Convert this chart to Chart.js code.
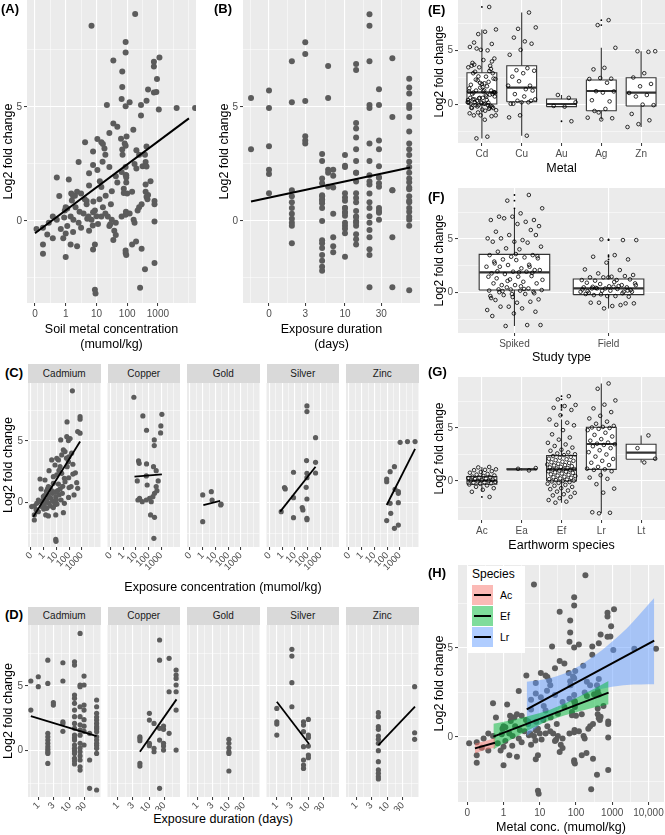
<!DOCTYPE html>
<html lang="en">
<head>
<meta charset="UTF-8">
<title>Log2 fold change by metal, duration and species</title>
<script src="https://cdn.jsdelivr.net/npm/chart.js"></script>
<style>
  body { margin: 0; background: #fff; }
  #fig { position: relative; width: 665px; height: 835px; overflow: hidden; font-family: 'Liberation Sans', Arial, sans-serif; }
  #fig canvas { position: absolute; }
  .tag { position: absolute; font-weight: bold; font-size: 13px; line-height: 15px; color: #000; }
  .strip { position: absolute; background: #D9D9D9; color: #1A1A1A; font-size: 10px; text-align: center; }
  .xtitle { position: absolute; left: 0; width: 446px; font-size: 12.5px; line-height: 14px; text-align: center; color: #000; }
  #legend { position: absolute; left: 467px; top: 566px; width: 58px; height: 87px; background: #fff; }
  #legend .lt { position: absolute; left: 5px; top: 1px; font-size: 12px; line-height: 15px; }
  #legend .key { position: absolute; left: 5px; width: 21px; height: 20px; }
  #legend .key i { position: absolute; left: 2px; top: 9px; width: 17px; height: 2px; background: #000; }
  #legend .lab { position: absolute; left: 33px; font-size: 10.5px; line-height: 20px; }
</style>
</head>
<body>
<div id="fig"></div>
<script>
// ---------- data ----------
const metals = ['Cadmium', 'Copper', 'Gold', 'Silver', 'Zinc'];
const metalCodes = ['Cd', 'Cu', 'Au', 'Ag', 'Zn'];

// [log10 soil concentration (mumol/kg), log2 fold change], panel C
const cdConc = [[2.26,9.08],[1.84,6.55],[2.87,6.98],[2.87,6.77],[2.68,5.76],[2.87,5.63],[1.34,5.08],[1.82,5.35],
  [1.95,5.03],[2.08,5.2],[1.55,4.27],[1.68,4.13],[1.42,3.86],[1.03,3.59],[0.63,3.45],[1.16,3.45],[0.42,2.58],
  [0.89,3.04],[1.29,2.9],[-0.29,1.9],[0.1,1.82],[0.76,2.09],[1.03,2.23],[1.42,2.36],[1.63,1.96],[-0.21,1.09],
  [0.37,1.28],[0.76,1.55],[1.16,1.49],[1.68,1.68],[2.16,1.28],[2.68,1.14],[2.39,0.6],[-0.95,-0.35],[-0.74,-0.3],
  [-0.55,-0.08],[-0.42,0.19],[-0.29,0.05],[-0.03,0.46],[0.05,-0.22],[0.16,0.19],[0.32,0.6],[0.42,-0.08],[0.58,0.33],
  [0.68,0.73],[0.84,0.05],[0.95,0.46],[1.05,-0.14],[1.21,0.6],[1.37,0.19],[1.47,0.73],[1.63,-0.08],[-0.16,-0.35],
  [0.24,-0.49],[0.5,-0.3],[0.76,-0.43],[-0.42,-0.76],[-0.74,-1.03],[-0.74,-1.44],[0.16,-1.03],[0.37,-1.11],
  [0.95,-1.03],[1.55,-0.84],[0.95,-3.02],[0.97,-3.18],[0.3,1.1],[0.5,1.2],[0.62,0.95],[0.2,0.9],[0.05,0.55],
  [0.45,0.4],[0.9,0.85],[1.0,0.2],[1.1,0.95],[0.7,0.1],[0.25,0.05],[-0.05,0.15],[0.88,-0.2],[1.3,1.1],[1.5,1.3],
  [1.85,2.9],[1.95,3.3],[1.97,2.0],[2.0,1.2],[1.96,0.4],[2.3,2.3],[2.5,2.4],[2.6,1.6],[1.8,3.6],[2.3,3.1],
  [1.2,2.6],[0.0,-0.55],[-0.6,-0.6],[1.98,3.7],[2.2,4.0]];
const cuConc = [[0.84,8.56],[1.55,7.04],[3.05,7.17],[1.84,5.87],[2.97,6.22],[2.95,5.65],[2.45,5.08],[2.45,4.62],
  [1.21,3.37],[1.26,3.18],[1.84,3.13],[2.39,2.9],[2.6,2.58],[1.11,1.74],[1.82,2.15],[2.76,1.74],[1.89,1.41],
  [2.66,0.95],[2.6,1.28],[1.16,0.19],[1.5,0.05],[1.82,0.19],[2.08,0.33],[2.34,0.46],[2.47,0.73],[2.21,0.05],
  [1.29,0.33],[2.16,-1.03],[2.47,-1.22],[2.42,-2.93]];
const auConc = [[0.0,0.6],[0.68,0.87],[0.74,0.19],[1.42,-0.22],[1.45,-0.15],[0.0,-1.58]];
const agConc = [[1.95,7.85],[1.95,7.39],[2.63,5.27],[1.92,3.4],[2.63,3.26],[2.63,2.39],[0.89,2.45],[1.95,2.36],
  [1.95,2.01],[1.89,1.22],[0.18,1.2],[0.24,1.09],[0.89,0.38],[1.95,0.27],[-0.08,-0.76],[0.89,-1.25],[1.58,-0.43],
  [1.63,-0.62],[1.95,-1.3],[1.95,-1.41]];
const znConc = [[3.03,4.89],[3.61,4.95],[4.21,4.95],[2.58,2.9],[2.24,2.5],[1.97,1.9],[1.97,1.68],[2.63,1.06],
  [2.89,0.87],[2.89,0.73],[2.24,-0.08],[2.89,-0.03],[2.29,-0.9],[1.97,-1.49],[2.89,-1.85],[2.58,-2.12]];
// fitted lines per metal, [log10 conc, lfc] end points
const concFits = [[[-0.82,-1.17],[2.87,4.95]], [[0.89,2.09],[3.05,2.28]], [[0.05,-0.22],[1.37,0.11]],
  [[-0.16,-0.76],[2.63,2.9]], [[1.97,-0.22],[4.21,4.35]]];
const concFitAll = [[-1,-0.54],[4.01,4.5]];

// [exposure duration (days), log2 fold change], panel D
const cdDays = [[0.58,5.39],[0.58,3.14],[1,5.72],[1,4.95],[2,7.0],[2,5.2],[2,1.34],[2,1.08],[2,0.82],[2,0.57],
  [2,0.31],[2,-0.08],[2,-0.21],[2,-0.98],[2,0.1],[3,3.71],[3,3.53],[6,6.8],[6,5.39],[6,2.24],[6,2.11],[6,1.5],
  [14,6.88],[14,6.62],[14,4.3],[14,4.05],[14,3.66],[14,3.14],[14,2.63],[14,2.11],[14,1.73],[14,1.21],[14,1.0],
  [14,0.82],[14,0.44],[14,0.18],[14,0.0],[14,-0.21],[14,-0.59],[14,-0.8],[14,-1.03],[21,9.07],[21,5.08],[21,4.95],
  [21,3.4],[21,2.63],[21,2.0],[21,1.6],[21,1.2],[21,0.57],[21,0.2],[21,-0.08],[21,-0.4],[21,-0.72],[21,-1.24],
  [21,-1.5],[28,5.77],[28,5.08],[28,3.53],[28,3.14],[28,2.4],[28,1.9],[28,1.5],[28,0.44],[42,1.34],[42,-0.72],
  [42,-2.91],[70,3.92],[70,3.4],[70,2.89],[70,2.6],[70,2.37],[70,2.11],[70,1.86],[70,1.7],[70,1.47],[70,1.08],
  [70,0.82],[70,0.57],[70,0.4],[70,0.18],[70,-0.21],[70,-3.04]];
const cuDays = [[5,0.95],[5,0.77],[5,-0.98],[5,-1.19],[5,1.08],[10,2.89],[10,2.37],[10,0.57],[10,0.39],[14,2.11],
  [14,0.18],[14,-0.08],[21,8.56],[21,7.0],[21,0.82],[21,-2.91],[21,1.73],[28,1.91],[28,1.65],[28,0.36],[28,0.05],
  [28,0.57],[42,7.14],[42,4.56],[42,1.34],[70,6.24],[70,5.85],[70,5.59],[70,5.08],[70,4.56],[70,3.14],[70,0.05]];
const auDays = [[10,0.88],[10,0.57],[10,0.23],[10,-0.08],[10,-0.21],[10,-1.57]];
const agDays = [[1,3.27],[1,2.24],[1,2.06],[1,1.21],[3,7.84],[3,7.32],[3,5.26],[3,3.4],[7,2.24],[7,1.98],[7,1.47],
  [7,0.31],[7,-0.72],[7,-1.11],[7,-1.37],[10,2.42],[10,1.21],[10,1.03],[10,0.36],[10,-0.34],[10,-0.54]];
const znDays = [[5,2.94],[5,2.63],[5,1.86],[5,1.65],[5,1.13],[5,0.88],[5,0.57],[5,0],[5,-0.85],[5,-1.49],
  [5,-1.75],[5,-2.01],[5,-2.19],[70,4.95],[70,1.39],[70,0.88]];
const durFits = [[[0.58,2.68],[70,1.13]], [[5,-0.08],[72,3.97]], null, [[1,3.79],[10.5,0.52]], [[5,0.44],[72,3.4]]];
const durFitAll = [[0.58,0.85],[72,2.34]];

// boxplot stats [lower whisker, q1, median, q3, upper whisker]
const metalBox = [[-3.18,0.03,1.12,2.95,6.98], [-2.93,0.24,1.55,3.6,8.56], [-0.22,-0.22,0.03,0.5,0.87],
  [-1.41,-0.6,1.24,2.27,5.27], [-2.12,-0.16,1.08,2.48,4.95]];
const studyTypes = ['Spiked', 'Field'];
const spikedLfc = [9.1,8.57,7.86,7.39,7.08,6.77,7.08,6.77,6.6,6.93,6.2,6.4,5.68,5.84,5.37,5.06,4.9,5.06,5.37,4.75,
  4.75,4.66,4.13,4.29,4.04,3.82,3.5,3.35,3.5,3.29,3.1,3.2,3.04,2.73,2.42,2.58,2.42,2.27,2.42,2.11,1.96,1.8,1.96,
  1.74,2.11,1.49,1.34,1.55,1.24,1.49,1.02,0.71,0.87,0.71,0.87,0.4,0.5,0.25,0.19,0.31,0.09,-0.12,-0.31,-0.12,-0.22,
  -0.62,-0.93,-0.68,-0.84,-1.3,-1.61,-1.46,-1.3,-1.77,-1.93,-2.17,-3.01,-3.1,-3.01,1.9,2.0,1.85,0.3,0.2,0.35,0.15,
  3.4,3.6,2.9,2.6,1.1,1.2,0.6,0.05,-0.05,-0.4,-0.5];
const fieldLfc = [4.9,4.97,4.9,3.5,3.35,3.1,2.8,2.17,2.11,1.8,1.65,1.49,1.43,1.55,1.43,1.18,1.18,1.12,1.24,1.43,
  0.93,0.71,0.81,0.87,0.56,0.4,0.5,0.4,0.5,0.62,0.4,0.09,0.19,0,0.09,0.19,0.09,-0.31,-0.22,-0.37,-0.31,-0.12,
  -1.15,-0.93,-0.99,-1.24,-0.93,-0.99,-1.46,0.3,0.35,0.45,0.25,0.6,0.15,-0.05,-0.15,0.7,1.0,0.55,0.2];
const studyBox = [[-3.1,0.25,1.9,3.57,7.8], [-1.46,-0.18,0.41,1.28,2.98]];

const speciesCodes = ['Ac', 'Ea', 'Ef', 'Lr', 'Lt'];
const acLfc = [1.32,1.28,1.1,1.05,1.02,0.93,0.85,0.78,0.66,0.6,0.52,0.47,0.41,0.36,0.33,0.28,0.22,0.19,0.12,0.08,
  0.04,0.01,-0.03,-0.08,-0.12,-0.17,-0.22,-0.27,-0.33,-0.42,-0.55,-0.68,-0.83,-1.02,-1.5];
const eaLfc = [1.0, 1.15, 1.22];
const efLfc = [8.0,7.7,7.17,7.07,6.9,6.7,6.2,5.8,5.5,5.3,5.25,4.8,4.4,4.1,3.9,3.6,3.45,3.3,3.15,2.95,2.85,2.7,2.6,
  2.52,2.44,2.35,2.28,2.2,2.1,2.05,1.97,1.9,1.82,1.77,1.7,1.62,1.56,1.5,1.47,1.4,1.33,1.28,1.22,1.17,1.12,1.1,1.08,
  1.03,0.98,0.92,0.88,0.81,0.76,0.7,0.63,0.58,0.51,0.47,0.4,0.36,0.3,0.24,0.18,0.13,0.08,0.03,0.0,-0.04,-0.1,-0.18,
  -0.26,-0.37,-0.45,-0.56,-0.68,-0.77,-0.9,-1.0,-1.12,-1.25,-1.36,-1.5,-1.62,-1.8,-1.95,-2.05];
const lrLfc = [9.2,8.7,7.6,7.2,6.85,6.5,6.15,5.9,5.6,5.4,5.2,5.1,5.05,5.0,4.92,4.8,4.55,4.35,4.2,3.95,3.8,3.62,3.52,
  3.47,3.4,3.28,3.1,2.9,2.72,2.5,2.3,2.08,1.9,1.72,1.5,1.33,1.16,1.1,1.05,0.92,0.55,0.32,0.2,-0.3,-0.72,-1.1,-2.95,
  -3.0,-3.05];
const ltLfc = [4.3, 3.1, 2.1, 1.75];
const speciesBox = [[-1.02,-0.31,0.03,0.41,1.32], [1.0,1.08,1.1,1.12,1.22], [-2.05,0.0,1.1,2.39,5.8],
  [-3.05,1.1,3.49,5.07,9.2], [1.75,2.05,2.67,3.46,4.3]];

// panel H: species fits with confidence bands (x in log10 conc)
const fitSpecies = ['Ac', 'Ef', 'Lr'];
const acBandX = [-0.79, -0.5, -0.235], acBandHi = [-0.36, -0.22, -0.05], acBandLo = [-0.92, -0.72, -0.6];
const efBandX = [-0.28, 0.5, 1.3, 2.1, 2.9], efBandHi = [0.74, 1.08, 1.55, 2.29, 3.14], efBandLo = [-0.7, 0.18, 0.95, 1.45, 1.84];
const lrBandX = [0.64, 1.3, 1.9, 2.6, 3.4, 4.16], lrBandHi = [3.1, 3.32, 3.77, 4.7, 6.1, 7.8], lrBandLo = [0.05, 1.2, 2.05, 2.65, 2.92, 2.96];
const speciesFits = [[[-0.79,-0.64],[-0.235,-0.32]], [[-0.28,0.02],[2.9,2.49]], [[0.64,1.55],[4.16,5.41]]];

// tick labels
const concTicks = [[-1,'0'],[0,'1'],[1,'10'],[2,'100'],[3,'1000']];
const hConcTicks = [[-1,'0'],[0,'1'],[1,'10'],[2,'100'],[3,'1000'],[4,'10,000']];
const durTicksB = [[0,'0'],[Math.log10(3),'3'],[1,'10'],[Math.log10(30),'30']];
const durTicksD = [[0,'1'],[Math.log10(3),'3'],[1,'10'],[Math.log10(30),'30']];
const lfcTicks = [[0,'0'],[5,'5']];

// ---------- drawing ----------
const fig = document.getElementById('fig');
const PT = '#5C5C5C';
const BAND = ['rgba(248,118,109,0.5)', 'rgba(0,186,56,0.5)', 'rgba(97,156,255,0.5)'];
const HW = 0.375;
Chart.defaults.font.family = "'Liberation Sans', Arial, sans-serif";

const panelBg = {
  id: 'panelBg',
  beforeDraw(chart) {
    const a = chart.chartArea, ctx = chart.ctx;
    ctx.save();
    ctx.fillStyle = '#EBEBEB';
    ctx.fillRect(a.left, a.top, a.right - a.left, a.bottom - a.top);
    ctx.restore();
  }
};

const lfcMinor = [-2.5, 2.5, 7.5];
const concMinor = [-0.5, 0.5, 1.5, 2.5, 3.5, 4];
const durMinor = [-0.24, 0.24, 0.74, 1.24, 1.74];

function axis(min, max, majors, minors, o = {}) {
  const list = majors.map(m => ({ v: m[0], label: m[1], major: true }))
    .concat(minors.map(v => ({ v, label: '', major: false })))
    .sort((a, b) => a.v - b.v);
  const major = c => list[c.index] && list[c.index].major;
  return {
    type: 'linear', min, max,
    afterBuildTicks: s => { s.ticks = list.map(t => ({ value: t.v })); },
    ticks: {
      display: !o.hideTicks,
      callback: (v, i) => list[i] ? list[i].label : '',
      color: '#4D4D4D', font: { size: o.tickSize || 10 }, padding: o.rotate ? 0 : 2,
      autoSkip: false, maxRotation: o.rotate || 0, minRotation: o.rotate || 0
    },
    grid: {
      color: '#FFFFFF',
      lineWidth: c => major(c) ? 1.1 : 0.5,
      drawTicks: !o.hideTicks, tickLength: 3, tickWidth: 1,
      tickColor: c => major(c) ? '#333333' : 'rgba(0,0,0,0)'
    },
    border: { display: false },
    title: o.title
      ? { display: true, text: o.title, color: '#000', font: { size: o.titleSize || 12.5 }, padding: { top: o.titlePad || 2, bottom: 0 } }
      : { display: false }
  };
}

function panel(rect, plot, scales, datasets) {
  const [cx, cy, cw, ch] = rect, [pl, pt, pr, pb] = plot;
  const cv = document.createElement('canvas');
  cv.width = cw; cv.height = ch;
  cv.style.left = cx + 'px'; cv.style.top = cy + 'px';
  cv.style.width = cw + 'px'; cv.style.height = ch + 'px';
  fig.appendChild(cv);
  scales.x.position = 'bottom';
  scales.y.position = 'left';
  scales.x.afterFit = s => { s.height = cy + ch - pb; s.paddingLeft = 0; s.paddingRight = 0; };
  scales.y.afterFit = s => { s.width = pl - cx; s.paddingTop = 0; s.paddingBottom = 0; };
  return new Chart(cv, {
    type: 'line',
    data: { datasets },
    options: {
      responsive: false, animation: false, events: [],
      layout: { autoPadding: false, padding: { left: 0, top: pt - cy, right: cx + cw - pr, bottom: 0 } },
      scales,
      plugins: { legend: { display: false }, tooltip: { enabled: false } }
    },
    plugins: [panelBg]
  });
}

const logX = p => Math.log10(p[0]);
const rawX = p => p[0];
const scatter = (pairs, r, fx = rawX) => ({
  data: pairs.map(p => ({ x: fx(p), y: p[1] })), showLine: false,
  pointRadius: r, pointBackgroundColor: PT, pointBorderColor: PT, pointBorderWidth: 0, order: 3
});
const fitLine = (ends, w, fx = rawX) => ({
  data: ends.map(p => ({ x: fx(p), y: p[1] })), borderColor: '#000', borderWidth: w,
  pointRadius: 0, fill: false, order: 1
});

// deterministic horizontal spread for jittered points
const jitter = (i, w) => ((((i + 1) * 0.6180339887 + 0.137) % 1) - 0.5) * 2 * w;

function boxDatasets(stats, groups, jw) {
  const sets = [], whisk = [], meds = [], outs = [], circles = [];
  stats.forEach((s, k) => {
    const x = k + 1, [lo, q1, md, q3, hi] = s;
    sets.push({
      data: [[x - HW, q1], [x + HW, q1], [x + HW, q3], [x - HW, q3], [x - HW, q1]].map(p => ({ x: p[0], y: p[1] })),
      fill: 'shape', backgroundColor: '#FFFFFF', borderColor: '#333333', borderWidth: 1.1, pointRadius: 0, order: 4
    });
    whisk.push({ x, y: lo }, { x, y: q1 }, { x, y: null }, { x, y: q3 }, { x, y: hi }, { x, y: null });
    meds.push({ x: x - HW, y: md }, { x: x + HW, y: md }, { x, y: null });
    groups[k].forEach((v, i) => {
      circles.push({ x: x + jitter(i, jw), y: v });
      if (v < lo || v > hi) outs.push({ x, y: v });
    });
  });
  sets.push({ data: whisk, borderColor: '#333333', borderWidth: 1.1, pointRadius: 0, fill: false, order: 5 });
  sets.push({ data: meds, borderColor: '#333333', borderWidth: 2.2, pointRadius: 0, fill: false, order: 3 });
  sets.push({ data: outs, showLine: false, pointRadius: 0.9, pointBackgroundColor: '#000', pointBorderWidth: 0, order: 2 });
  sets.push({ data: circles, showLine: false, pointRadius: 1.8, pointBackgroundColor: 'rgba(0,0,0,0)',
    pointBorderColor: '#000', pointBorderWidth: 0.8, order: 1 });
  return sets;
}

function boxPanel(rect, plot, yr, cats, stats, groups, jw, xTitle) {
  return panel(rect, plot, {
    x: axis(0.4, cats.length + 0.6, cats.map((c, k) => [k + 1, c]), [], { title: xTitle }),
    y: axis(yr[0], yr[1], lfcTicks, lfcMinor, { title: 'Log2 fold change', titlePad: 2.5, titleSize: 12 })
  }, boxDatasets(stats, groups, jw));
}

function html(cls, text, css) {
  const d = document.createElement('div');
  d.className = cls; d.textContent = text; d.style.cssText = css;
  fig.appendChild(d);
  return d;
}

const concByMetal = [cdConc, cuConc, auConc, agConc, znConc];
const daysByMetal = [cdDays, cuDays, auDays, agDays, znDays];
const allConc = concByMetal.flat();
const allDays = daysByMetal.flat();

// (A)
panel([0, 0, 200, 352], [27, 0, 196, 303], {
  x: axis(-1.26, 4.24, concTicks, concMinor, { title: ['Soil metal concentration', '(mumol/kg)'] }),
  y: axis(-3.6, 9.69, lfcTicks, lfcMinor, { title: 'Log2 fold change', titlePad: 1.5 })
}, [scatter(allConc, 3), fitLine(concFitAll, 2)]);

// (B)
panel([215, 0, 210, 352], [243, 0, 420, 303], {
  x: axis(-0.342, 1.987, durTicksB, durMinor, { title: ['Exposure duration', '(days)'] }),
  y: axis(-3.6, 9.69, lfcTicks, lfcMinor, { title: 'Log2 fold change', titlePad: 2.5 })
}, [scatter(allDays, 3, logX), fitLine(durFitAll, 2, logX)]);

// (C) and (D) facets
const facetLefts = [28, 107.5, 187, 266.5, 346], FACET_W = 72.5;
metals.forEach((m, i) => {
  const pl = facetLefts[i], pr = pl + FACET_W;
  const cx = i === 0 ? 0 : Math.floor(pl - 9);
  const cw = Math.ceil(pr + 1) - cx;
  const yOpt = i === 0 ? { title: 'Log2 fold change', titlePad: 1 } : { hideTicks: true };

  html('strip', m, `left:${pl}px;top:363.5px;width:${FACET_W}px;height:19.5px;line-height:19.5px`);
  const cSets = [scatter(concByMetal[i], 2.6)];
  if (concFits[i]) cSets.push(fitLine(concFits[i], 1.8));
  panel([cx, 383, cw, 192], [pl, 383, pr, 547], {
    x: axis(-1.24, 4.48, concTicks, concMinor, { rotate: 45, tickSize: 9.5 }),
    y: axis(-3.64, 9.72, lfcTicks, lfcMinor, yOpt)
  }, cSets);

  html('strip', m, `left:${pl}px;top:606.5px;width:${FACET_W}px;height:18.5px;line-height:18.5px`);
  const dSets = [scatter(daysByMetal[i], 2.6, logX)];
  if (durFits[i]) dSets.push(fitLine(durFits[i], 1.8, logX));
  panel([cx, 625, cw, 186], [pl, 625, pr, 797], {
    x: axis(-0.326, 1.968, durTicksD, durMinor, { rotate: 45, tickSize: 9.5 }),
    y: axis(-3.58, 9.72, lfcTicks, lfcMinor, yOpt)
  }, dSets);
});
html('xtitle', 'Exposure concentration (mumol/kg)', 'top:580px');
html('xtitle', 'Exposure duration (days)', 'top:812px');

// (E) (F) (G)
boxPanel([430, 0, 235, 176], [458, 0, 665, 143], [-3.61, 9.73], metalCodes, metalBox,
  concByMetal.map(a => a.map(p => p[1])), 0.36, 'Metal');
boxPanel([430, 188, 235, 177], [458, 188, 665, 333], [-3.75, 9.75], studyTypes, studyBox,
  [spikedLfc, fieldLfc], 0.3, 'Study type');
boxPanel([430, 377, 235, 176], [458, 377, 665, 520], [-3.68, 9.81], speciesCodes, speciesBox,
  [acLfc, eaLfc, efLfc, lrLfc, ltLfc], 0.36, 'Earthworm species');

// (H)
const bandX = [acBandX, efBandX, lrBandX], bandHi = [acBandHi, efBandHi, lrBandHi], bandLo = [acBandLo, efBandLo, lrBandLo];
const hSets = [scatter(allConc, 3)];
hSets[0].order = 4;
fitSpecies.forEach((s, k) => {
  hSets.push({ data: bandX[k].map((x, i) => ({ x, y: bandHi[k][i] })), fill: '+1', backgroundColor: BAND[k],
    borderColor: 'rgba(0,0,0,0)', borderWidth: 0, pointRadius: 0, tension: 0.3, order: 2 });
  hSets.push({ data: bandX[k].map((x, i) => ({ x, y: bandLo[k][i] })), fill: false,
    borderColor: 'rgba(0,0,0,0)', borderWidth: 0, pointRadius: 0, tension: 0.3, order: 2 });
});
speciesFits.forEach(f => hSets.push(fitLine(f, 2)));
panel([430, 565, 235, 270], [458, 565, 664, 802], {
  x: axis(-1.257, 4.43, hConcTicks, [-0.5, 0.5, 1.5, 2.5, 3.5], { title: 'Metal conc. (mumol/kg)' }),
  y: axis(-3.65, 9.66, lfcTicks, lfcMinor, { title: 'Log2 fold change', titlePad: 2.5 })
}, hSets);

// legend for (H)
const legend = document.createElement('div');
legend.id = 'legend';
legend.innerHTML = '<div class="lt">Species</div>' + fitSpecies.map((s, k) =>
  `<div class="key" style="top:${19 + 21 * k}px;background:${BAND[k]}"><i></i></div>` +
  `<div class="lab" style="top:${19 + 21 * k}px">${s}</div>`).join('');
fig.appendChild(legend);

// panel tags
[['(A)', 1, 1], ['(B)', 214, 1], ['(C)', 5, 365], ['(D)', 5, 607],
 ['(E)', 428, 2], ['(F)', 428, 189], ['(G)', 428, 364], ['(H)', 428, 565]]
  .forEach(t => html('tag', t[0], `left:${t[1]}px;top:${t[2]}px`));
</script>
</body>
</html>
